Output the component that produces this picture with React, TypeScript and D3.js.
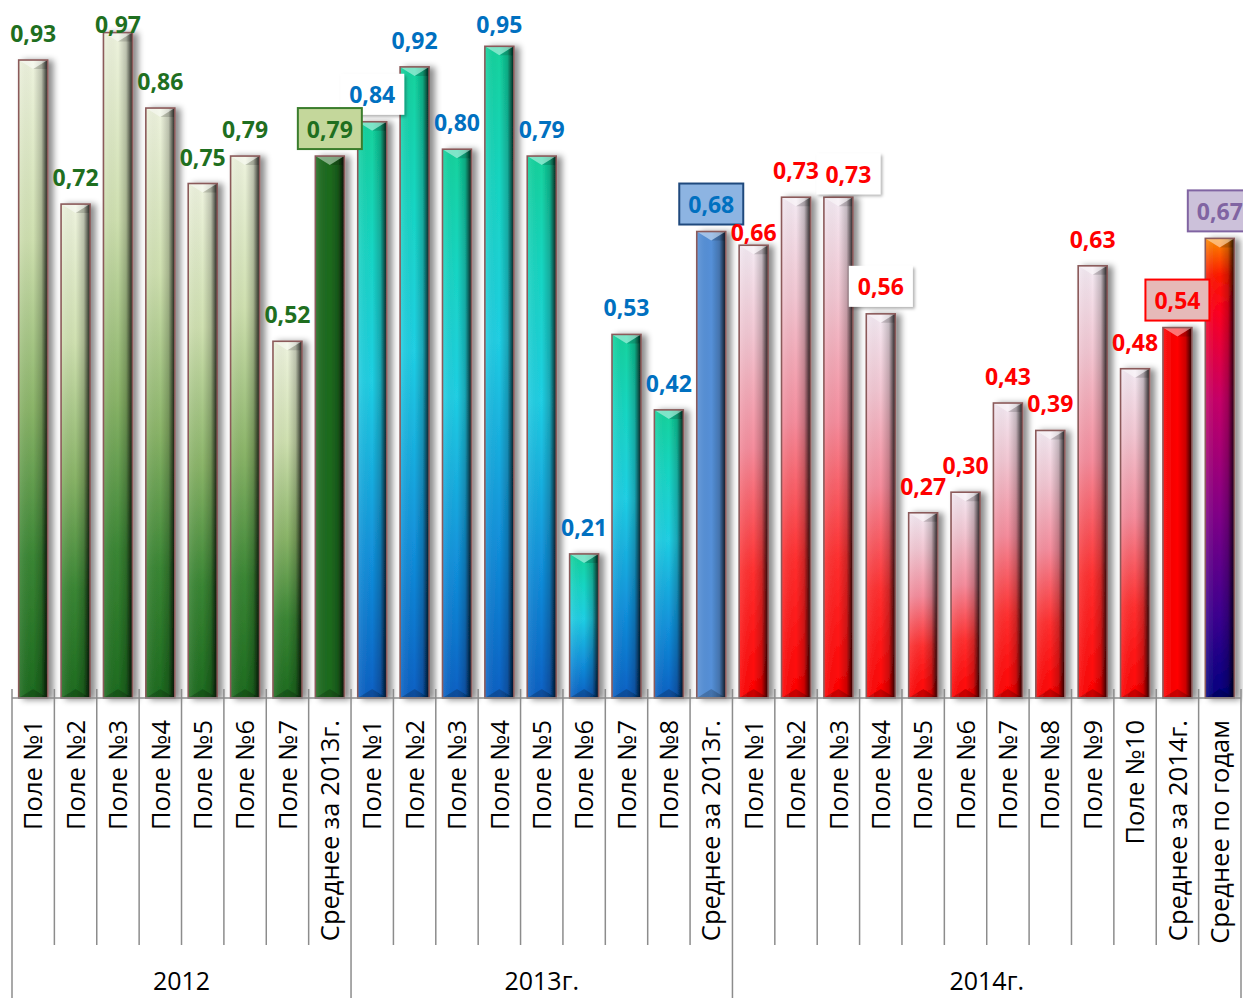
import React from "react";
import * as d3 from "d3";

// ---- data ----
const groupNames = ["2012", "2013г.", "2014г."];

const categories2012 = ["Поле №1", "Поле №2", "Поле №3", "Поле №4", "Поле №5", "Поле №6", "Поле №7", "Среднее за 2013г."];
const values2012 = [0.93, 0.72, 0.97, 0.86, 0.75, 0.79, 0.52, 0.79];

const categories2013 = ["Поле №1", "Поле №2", "Поле №3", "Поле №4", "Поле №5", "Поле №6", "Поле №7", "Поле №8", "Среднее за 2013г."];
const values2013 = [0.84, 0.92, 0.8, 0.95, 0.79, 0.21, 0.53, 0.42, 0.68];

const categories2014 = ["Поле №1", "Поле №2", "Поле №3", "Поле №4", "Поле №5", "Поле №6", "Поле №7", "Поле №8", "Поле №9", "Поле №10", "Среднее за 2014г.", "Среднее по годам"];
const values2014 = [0.66, 0.73, 0.73, 0.56, 0.27, 0.3, 0.43, 0.39, 0.63, 0.48, 0.54, 0.67];

// ---- layout ----
const W = 1243;
const H = 998;
const LEFT = 12;
const RIGHT = 1241;
const BASE = 698;
const TOP = 12;
const FONT = "'Open Sans', 'Noto Sans', 'DejaVu Sans', sans-serif";

type Row = { i: number; group: number; cat: string; value: number };

const rows: Row[] = [];
[
  [categories2012, values2012],
  [categories2013, values2013],
  [categories2014, values2014],
].forEach(([cats, vals], g) => {
  (cats as string[]).forEach((c, k) => {
    rows.push({ i: rows.length, group: g, cat: c, value: (vals as number[])[k] });
  });
});

const groupStarts = [0, categories2012.length, categories2012.length + categories2013.length, rows.length];

// fill style of each bar
function fillOf(r: Row): string {
  if (r.group === 0) return r.cat.startsWith("Среднее") ? "#1d6b1f" : "url(#fill12)";
  if (r.group === 1) return r.cat.startsWith("Среднее") ? "#5590d8" : "url(#fill13)";
  if (r.cat === "Среднее за 2014г.") return "#ff0000";
  if (r.cat === "Среднее по годам") return "url(#fillAll)";
  return "url(#fill14)";
}

function labelColor(r: Row): string {
  if (r.group === 0) return "#1f6f1f";
  if (r.group === 1) return "#0070c0";
  if (r.cat === "Среднее по годам") return "#8064a2";
  return "#ff0000";
}

type Frame = { fill: string; stroke: string | null };
const frames: Record<string, Frame> = {
  green: { fill: "#c4d79b", stroke: "#3a7d2c" },
  white: { fill: "#ffffff", stroke: null },
  blue: { fill: "#8db4e2", stroke: "#1f497d" },
  red: { fill: "#e6b9b8", stroke: "#ff0000" },
  purple: { fill: "#ccc1da", stroke: "#8064a2" },
};
// framed labels by bar index
const labelFrames: Record<number, string> = { 7: "green", 8: "white", 16: "blue", 19: "white", 20: "white", 27: "red", 28: "purple" };
// hand-moved labels
const labelNudge: Record<number, { dx: number; dy: number }> = { 17: { dx: 0, dy: 14 }, 19: { dx: 10, dy: 4 } };

const fmt = (v: number) => v.toFixed(2).replace(".", ",");

export default function App() {
  const x = d3
    .scaleBand<number>()
    .domain(rows.map((r) => r.i))
    .range([LEFT, RIGHT])
    .paddingInner(0.316)
    .paddingOuter(0.158);
  const y = d3.scaleLinear().domain([0, 1]).range([BASE, TOP]);
  const bw = x.bandwidth();
  const gap = (x.step() - bw) / 2;
  const boundary = (i: number) => (i < rows.length ? x(i)! - gap : x(rows.length - 1)! + bw + gap);

  const boxW = 64;
  const boxH = 41;

  const labelInfo = rows.map((r) => {
    const cx = x(r.i)! + bw / 2;
    const yT = y(r.value);
    const nudge = labelNudge[r.i] || { dx: 0, dy: 0 };
    const frameKey = labelFrames[r.i];
    if (frameKey) {
      const bottom = yT - 7 + nudge.dy;
      return {
        r,
        frame: frames[frameKey],
        frameKey,
        bx: cx - boxW / 2 + nudge.dx,
        by: bottom - boxH,
        tx: cx + nudge.dx,
        ty: bottom - 11.5,
      };
    }
    return { r, frame: null, frameKey: null, bx: 0, by: 0, tx: cx + nudge.dx, ty: Math.max(yT - 18, 33) + nudge.dy };
  });

  return (
    <div style={{ position: "absolute", left: 0, top: 0, width: W, height: H, background: "#fff" }}>
      <svg width={W} height={H} viewBox={`0 0 ${W} ${H}`} style={{ display: "block", fontFamily: FONT }}>
        <defs>
          <linearGradient id="fill12" x1="0" y1="0" x2="0" y2="1">
            <stop offset="0" stopColor="#eef3de" />
            <stop offset="0.28" stopColor="#cfe0b0" />
            <stop offset="0.55" stopColor="#8ab468" />
            <stop offset="0.78" stopColor="#3a8634" />
            <stop offset="1" stopColor="#1d6b1f" />
          </linearGradient>
          <linearGradient id="fill13" x1="0" y1="0" x2="0" y2="1">
            <stop offset="0" stopColor="#12d39c" />
            <stop offset="0.22" stopColor="#18d6c4" />
            <stop offset="0.45" stopColor="#20cfe4" />
            <stop offset="0.75" stopColor="#1292dc" />
            <stop offset="1" stopColor="#0a60c4" />
          </linearGradient>
          <linearGradient id="fill14" x1="0" y1="0" x2="0" y2="1">
            <stop offset="0" stopColor="#f4eaf3" />
            <stop offset="0.2" stopColor="#f2c6d2" />
            <stop offset="0.45" stopColor="#f58c9c" />
            <stop offset="0.72" stopColor="#ff3030" />
            <stop offset="1" stopColor="#ff0000" />
          </linearGradient>
          <linearGradient id="fillAll" x1="0" y1="0" x2="0" y2="1">
            <stop offset="0" stopColor="#ff8c00" />
            <stop offset="0.08" stopColor="#ff1a00" />
            <stop offset="0.16" stopColor="#ff0020" />
            <stop offset="0.35" stopColor="#c80068" />
            <stop offset="0.6" stopColor="#820088" />
            <stop offset="0.82" stopColor="#3c0090" />
            <stop offset="1" stopColor="#000080" />
          </linearGradient>
          <linearGradient id="sideShade" x1="0" y1="0" x2="1" y2="0">
            <stop offset="0" stopColor="#ffffff" stopOpacity="0.12" />
            <stop offset="0.5" stopColor="#000000" stopOpacity="0" />
            <stop offset="0.78" stopColor="#000000" stopOpacity="0.2" />
            <stop offset="0.9" stopColor="#000000" stopOpacity="0.55" />
            <stop offset="1" stopColor="#000000" stopOpacity="0.85" />
          </linearGradient>
          <filter id="barShadow" x="-40%" y="-5%" width="190%" height="110%">
            <feDropShadow dx="5" dy="1" stdDeviation="3" floodColor="#000" floodOpacity="0.45" />
          </filter>
          <filter id="boxShadow" x="-20%" y="-20%" width="150%" height="160%">
            <feDropShadow dx="2" dy="2" stdDeviation="1.6" floodColor="#000" floodOpacity="0.3" />
          </filter>
        </defs>

        {/* bars */}
        {rows.map((r) => {
          const x0 = x(r.i)!;
          const x1 = x0 + bw;
          const cx = x0 + bw / 2;
          const yT = y(r.value);
          const h = BASE - yT;
          const b = Math.min(9, h / 3);
          return (
            <g key={`bar-${r.i}`} filter="url(#barShadow)">
              <rect x={x0} y={yT} width={bw} height={h} fill={fillOf(r)} />
              <rect x={x0} y={yT} width={bw} height={h} fill="url(#sideShade)" />
              <polygon points={`${x0},${yT} ${x1},${yT} ${cx},${yT + b}`} fill="#ffffff" fillOpacity={0.45} />
              <polygon points={`${x1},${yT} ${x1},${yT + b} ${cx},${yT + b}`} fill="#000000" fillOpacity={0.15} />
              <polygon points={`${x0},${BASE} ${x1},${BASE} ${cx},${BASE - b}`} fill="#000000" fillOpacity={0.2} />
              <rect x={x0} y={yT} width={bw} height={h} fill="none" stroke="#8b5a5a" strokeWidth={1.6} />
            </g>
          );
        })}

        {/* axis */}
        <line x1={LEFT} x2={RIGHT} y1={BASE} y2={BASE} stroke="#8c8c8c" strokeWidth={1.5} />
        {d3.range(rows.length + 1).map((i) => {
          const bx = boundary(i);
          const long = groupStarts.includes(i);
          return <line key={`tick-${i}`} x1={bx} x2={bx} y1={689} y2={long ? H : 945} stroke="#8c8c8c" strokeWidth={1.5} />;
        })}

        {/* category labels */}
        {rows.map((r) => {
          const cx = x(r.i)! + bw / 2;
          return (
            <text key={`cat-${r.i}`} transform={`translate(${cx},720) rotate(-90)`} textAnchor="end" dy="0.36em" fontSize={25.5} fill="#000">
              {r.cat}
            </text>
          );
        })}

        {/* group labels */}
        {groupNames.map((g, k) => {
          const cx = (boundary(groupStarts[k]) + boundary(groupStarts[k + 1])) / 2;
          return (
            <text key={`grp-${k}`} x={cx} y={990} textAnchor="middle" fontSize={25} fill="#000">
              {g}
            </text>
          );
        })}

        {/* label frames: plain white first, coloured on top */}
        {labelInfo
          .filter((l) => l.frameKey === "white")
          .map((l) => (
            <rect key={`wbox-${l.r.i}`} x={l.bx} y={l.by} width={boxW} height={boxH} fill="#fff" filter="url(#boxShadow)" />
          ))}
        {labelInfo
          .filter((l) => l.frame && l.frameKey !== "white")
          .map((l) => (
            <rect
              key={`cbox-${l.r.i}`}
              x={l.bx}
              y={l.by}
              width={boxW}
              height={boxH}
              fill={l.frame!.fill}
              stroke={l.frame!.stroke || "none"}
              strokeWidth={2}
            />
          ))}

        {/* value labels */}
        {labelInfo.map((l) => (
          <text key={`val-${l.r.i}`} x={l.tx} y={l.ty} textAnchor="middle" fontSize={23} fontWeight={700} fill={labelColor(l.r)}>
            {fmt(l.r.value)}
          </text>
        ))}
      </svg>
    </div>
  );
}
